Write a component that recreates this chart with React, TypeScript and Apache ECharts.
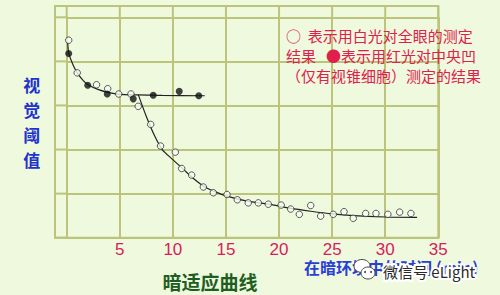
import React, { useEffect, useRef } from "react";
import * as echarts from "echarts";

// axis ticks
const X_TICKS = [0, 5, 10, 15, 20, 25, 30, 35];
const Y_TICKS = [0, 1, 2, 3, 4, 5];

// ○ white light, whole eye
const openX = [0.19, 0.99, 2.81, 3.86, 4.9, 6.05, 6.74, 7.91, 8.84, 10.23, 10.83, 11.77, 12.87, 13.81, 15.1, 16.07, 17.1, 18.05, 18.99, 20.2, 21.1, 21.91, 22.98, 23.92, 25.11, 26.12, 26.99, 28.16, 29.13, 30.25, 31.36, 32.42];
const openY = [4.48, 3.74, 3.47, 3.38, 3.26, 3.26, 2.98, 2.57, 2.08, 1.94, 1.57, 1.42, 1.15, 1.02, 0.98, 0.86, 0.79, 0.79, 0.76, 0.74, 0.65, 0.53, 0.73, 0.49, 0.53, 0.59, 0.44, 0.55, 0.55, 0.53, 0.58, 0.55];

// ● red light, fovea (cones only)
const fillX = [0.19, 1.98, 3.82, 6.27, 8.15, 10.6, 12.44];
const fillY = [4.18, 3.46, 3.26, 3.15, 3.23, 3.32, 3.22];

// fitted curves
const coneX = [0.1, 0.2, 0.6, 1.0, 1.5, 2.0, 3.0, 4.0, 5.0, 6.0, 6.75, 9.0, 13.0];
const coneY = [4.42, 4.18, 3.92, 3.74, 3.58, 3.47, 3.36, 3.29, 3.25, 3.24, 3.24, 3.23, 3.22];
const rodX = [6.75, 7.5, 8.3, 9.0, 10.0, 11.0, 12.0, 13.0, 14.0, 15.0, 17.0, 19.0, 21.0, 23.0, 25.0, 27.0, 30.0, 33.0];
const rodY = [3.24, 2.75, 2.3, 2.0, 1.77, 1.55, 1.33, 1.15, 1.04, 0.95, 0.83, 0.76, 0.67, 0.6, 0.54, 0.5, 0.47, 0.46];

const BG = "#eef9de";
const GRID = "#bcc47c";
const CJK = "'Noto Sans CJK SC', 'Noto Sans', sans-serif";

const zip = (xs: number[], ys: number[]) => xs.map((x, i) => [x, ys[i]]);

export default function App() {
  const ref = useRef<HTMLDivElement>(null);
  useEffect(() => {
    document.body.style.margin = "0";
    const chart = echarts.init(ref.current!, null, { renderer: "svg" });
    chart.setOption({
      animation: false,
      backgroundColor: BG,
      grid: { left: 66.7, top: 17.3, right: 61.7, bottom: 57.3 },
      xAxis: {
        type: "value",
        min: 0,
        max: 35,
        interval: 5,
        axisLine: { show: true, lineStyle: { color: GRID, width: 2 } },
        axisTick: { show: false },
        axisLabel: {
          margin: 3,
          color: "#d81c5c",
          fontSize: 17,
          fontFamily: "'Liberation Sans', sans-serif",
          formatter: (v: number) => (v === 0 ? "" : String(v)),
        },
        splitLine: { show: true, lineStyle: { color: GRID, width: 2 } },
      },
      yAxis: {
        type: "value",
        min: 0,
        max: 5,
        interval: 1,
        axisLine: { show: true, lineStyle: { color: GRID, width: 2 } },
        axisTick: { show: false },
        axisLabel: { show: false },
        splitLine: { show: true, lineStyle: { color: GRID, width: 2 } },
      },
      series: [
        {
          type: "line",
          data: zip(coneX, coneY),
          smooth: 0.3,
          showSymbol: false,
          lineStyle: { color: "#222", width: 1.2 },
          z: 3,
        },
        {
          type: "line",
          data: zip(rodX, rodY),
          smooth: 0.3,
          showSymbol: false,
          lineStyle: { color: "#222", width: 1.2 },
          z: 3,
        },
        {
          type: "scatter",
          data: zip(openX, openY),
          symbol: "circle",
          symbolSize: 6.5,
          itemStyle: { color: "#f8fcf2", borderColor: "#333", borderWidth: 1 },
          z: 4,
        },
        {
          type: "scatter",
          data: zip(fillX, fillY),
          symbol: "circle",
          symbolSize: 7,
          itemStyle: { color: "#111" },
          z: 5,
        },
      ],
    });

    const px = X_TICKS.map((v) => chart.convertToPixel({ xAxisIndex: 0 }, v) as number);
    const py = Y_TICKS.map((v) => chart.convertToPixel({ yAxisIndex: 0 }, v) as number);
    const frameL = 55;
    const frameT = 6;
    const x0 = px[0];
    const yTop = py[py.length - 1];
    const lines: any[] = [];
    px.forEach((x) =>
      lines.push({ type: "line", shape: { x1: x, y1: frameT, x2: x, y2: yTop }, style: { stroke: GRID, lineWidth: 2 }, silent: true })
    );
    py.forEach((y) =>
      lines.push({ type: "line", shape: { x1: frameL, y1: y, x2: x0, y2: y }, style: { stroke: GRID, lineWidth: 2 }, silent: true })
    );

    const wmText = "微信号 eLight";

    chart.setOption({
      graphic: [
        {
          type: "rect",
          shape: { x: frameL, y: frameT, width: px[px.length - 1] - frameL, height: py[0] - frameT },
          style: { fill: "none", stroke: GRID, lineWidth: 2 },
          silent: true,
        },
        ...lines,
        {
          type: "text",
          x: 31.7,
          y: 72.6,
          style: {
            text: "视\n觉\n阈\n值",
            font: `bold 17px ${CJK}`,
            fill: "#2233cc",
            align: "center",
            verticalAlign: "top",
            lineHeight: 24.7,
          },
        },
        {
          type: "text",
          x: 210,
          y: 281.5,
          style: {
            text: "暗适应曲线",
            font: `bold 19px ${CJK}`,
            fill: "#1e5e22",
            align: "center",
            verticalAlign: "middle",
          },
        },
        {
          type: "text",
          x: 304,
          y: 267,
          style: {
            text: "在暗环境中的时间 (min)",
            font: `bold 16px ${CJK}`,
            fill: "#2a3fd4",
            align: "left",
            verticalAlign: "middle",
          },
        },
        {
          type: "text",
          x: 286,
          y: 25,
          style: {
            text: "○  表示用白光对全眼的测定\n结果   ●表示用红光对中央凹\n（仅有视锥细胞）测定的结果",
            font: `15px ${CJK}`,
            fill: "#e0204c",
            align: "left",
            verticalAlign: "top",
            lineHeight: 20,
          },
        },
        // watermark
        {
          type: "group",
          children: [
            { type: "ellipse", shape: { cx: 362, cy: 266, rx: 8, ry: 6.5 }, style: { fill: "#fff", stroke: "#444", lineWidth: 1 } },
            { type: "ellipse", shape: { cx: 368, cy: 273, rx: 7, ry: 6 }, style: { fill: "#fff", stroke: "#444", lineWidth: 1 } },
            { type: "circle", shape: { cx: 365, cy: 272, r: 1 }, style: { fill: "#444" } },
            { type: "circle", shape: { cx: 371, cy: 272, r: 1 }, style: { fill: "#444" } },
            {
              type: "text",
              x: 383,
              y: 271,
              style: {
                text: wmText,
                font: `15px ${CJK}`,
                fill: "#ffffff",
                stroke: "#ffffff",
                lineWidth: 4,
                align: "left",
                verticalAlign: "middle",
              },
            },
            {
              type: "text",
              x: 383,
              y: 271,
              style: {
                text: wmText,
                font: `15px ${CJK}`,
                fill: "#2a2a2a",
                align: "left",
                verticalAlign: "middle",
              },
            },
          ],
        },
      ],
    });

    return () => chart.dispose();
  }, []);
  return <div ref={ref} style={{ width: 500, height: 295 }} />;
}
